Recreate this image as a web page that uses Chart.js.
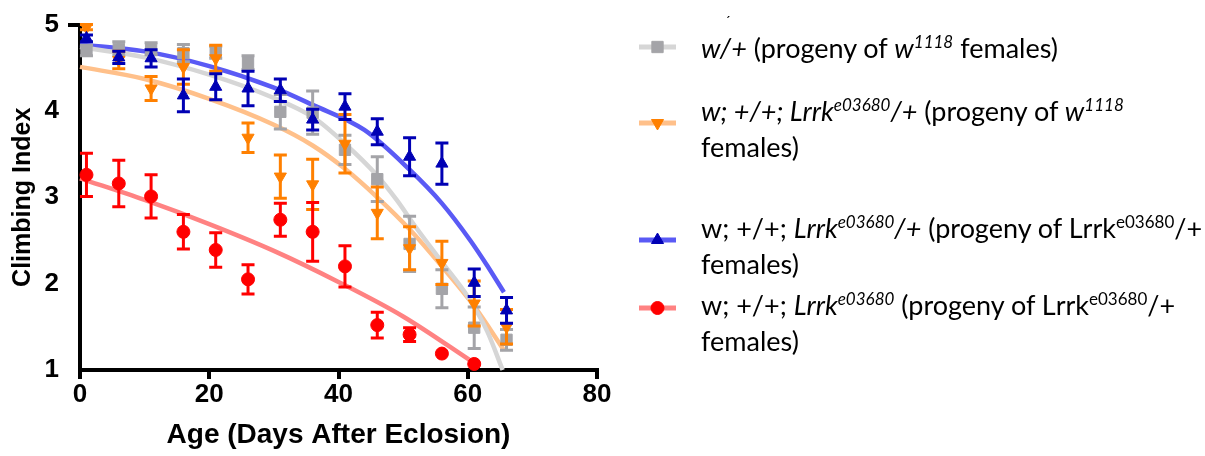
<!DOCTYPE html>
<html><head><meta charset="utf-8">
<script src="https://cdn.jsdelivr.net/npm/chart.js@4.4.1/dist/chart.umd.min.js"></script>
<style>
html,body{margin:0;padding:0;background:#fff;width:1205px;height:456px;overflow:hidden}
#wrap{position:relative;width:1205px;height:456px}
canvas{position:absolute;left:0;top:0}
.leg{position:absolute;left:701px;font-family:Lato,'Open Sans',sans-serif;font-size:27px;color:#000;line-height:36px;white-space:nowrap}
.leg sup{font-size:17px;line-height:0;vertical-align:0;position:relative;top:-10px}
.tick{position:absolute;left:725px;top:12px;font-family:Lato,sans-serif;font-size:14px}
</style></head><body>
<div id="wrap"><canvas id="c" width="1205" height="456"></canvas>
<div class="tick">ˊ</div>
<div class="leg" style="top:30px"><i>w/+</i> (progeny of <i>w<sup>1118</sup></i> females)</div>
<div class="leg" style="top:93px"><i>w; +/+; Lrrk<sup>e03680</sup>/+</i> (progeny of <i>w<sup>1118</sup></i><br>females)</div>
<div class="leg" style="top:210px">w; +/+; <i>Lrrk<sup>e03680</sup>/+</i> (progeny of Lrrk<sup>e03680</sup>/+<br>females)</div>
<div class="leg" style="top:287px">w; +/+; <i>Lrrk<sup>e03680</sup></i> (progeny of Lrrk<sup>e03680</sup>/+<br>females)</div>
</div>
<script>
// ---- data ----
const days = [1,6,11,16,21,26,31,36,41,46,51,56,61,66];
const redDays = [1,6,11,16,21,26,31,36,41,46,51,56,61];

const greyVals = [4.70,4.72,4.72,4.67,4.68,4.56,3.99,3.98,3.55,3.21,2.46,1.94,1.49,1.35];
const greyErr  = [0.06,0.08,0.07,0.10,0.07,0.08,0.20,0.25,0.17,0.26,0.32,0.22,0.24,0.12];

const orangeVals = [4.97,4.59,4.26,4.51,4.61,3.69,3.24,3.15,3.62,2.82,2.41,2.24,1.77,1.50];
const orangeErr  = [0.03,0.10,0.14,0.20,0.15,0.17,0.25,0.29,0.34,0.30,0.25,0.25,0.26,0.20];

const blueVals = [4.84,4.62,4.61,4.18,4.28,4.26,4.24,3.90,4.05,3.76,3.47,3.39,2.01,1.69];
const blueErr  = [0.04,0.07,0.10,0.19,0.15,0.20,0.13,0.12,0.15,0.15,0.22,0.24,0.16,0.15];

const redVals = [3.26,3.16,3.01,2.60,2.39,2.05,2.74,2.60,2.20,1.52,1.41,1.19,1.07];
const redErr  = [0.25,0.27,0.25,0.20,0.20,0.17,0.19,0.34,0.24,0.15,0.08,0,0];

// fitted curves
const greyFitX = [0,10,20,30,36,41,46,49,52,56,60,63,65.4];
const greyFitY = [4.74,4.62,4.42,4.15,3.93,3.62,3.25,2.97,2.65,2.25,1.85,1.45,1.0];
const orangeFitX = [0,10,20,30,36,41,46,51,56,61,65.6];
const orangeFitY = [4.51,4.37,4.14,3.84,3.60,3.33,3.00,2.63,2.20,1.74,1.23];
const blueFitX = [0,10,20,30,36,44,51,56,60.4,63,65.6];
const blueFitY = [4.77,4.69,4.52,4.27,4.07,3.78,3.32,2.93,2.50,2.21,1.90];
const redFitX = [0,10,20,30,40,50,61];
const redFitY = [3.22,2.97,2.69,2.38,2.02,1.62,1.08];

const xTicks = [0,20,40,60,80];
const yTicks = [1,2,3,4,5];

const pts = (xs, ys) => xs.map((x,i)=>({x, y: ys[i]}));

const C = {
  grey:'#a4a4a8', greyLine:'#d6d6d6',
  orange:'#ff8000', orangeLine:'#ffc08a',
  blue:'#0000b4', blueLine:'#5a5af5',
  red:'#ff0000', redLine:'#ff8282'
};
const FONT = '"Liberation Sans", Arial, sans-serif';

const errorBars = {
  id:'errorBars',
  beforeDatasetDraw(chart, args){
    const ds = chart.data.datasets[args.index];
    if(!ds.errors) return;
    const ctx = chart.ctx, ys = chart.scales.y;
    ctx.save();
    ctx.strokeStyle = ds.errColor; ctx.lineWidth = 3; ctx.lineCap='butt';
    args.meta.data.forEach((p,i)=>{
      const e = ds.errors[i]; if(!e) return;
      const v = ds.data[i].y;
      const t = ys.getPixelForValue(v+e), b = ys.getPixelForValue(v-e), x = p.x;
      ctx.beginPath();
      ctx.moveTo(x,t); ctx.lineTo(x,b);
      ctx.moveTo(x-6.5,t); ctx.lineTo(x+6.5,t);
      ctx.moveTo(x-6.5,b); ctx.lineTo(x+6.5,b);
      ctx.stroke();
    });
    ctx.restore();
  }
};

const legendSymbols = {
  id:'legendSymbols',
  afterDraw(chart){
    const ctx = chart.ctx;
    const items = [
      {y:47, line:C.greyLine, col:C.grey, style:'rect', rot:0, r:8},
      {y:123, line:C.orangeLine, col:C.orange, style:'triangle', rot:180, r:7},
      {y:240, line:C.blueLine, col:C.blue, style:'triangle', rot:0, r:7},
      {y:308, line:C.redLine, col:C.red, style:'circle', rot:0, r:6.5}
    ];
    items.forEach(it=>{
      ctx.save();
      ctx.strokeStyle = it.line; ctx.lineWidth = 5;
      ctx.beginPath(); ctx.moveTo(639,it.y); ctx.lineTo(676,it.y); ctx.stroke();
      ctx.fillStyle = it.col; ctx.strokeStyle = it.col; ctx.lineWidth = 1;
      Chart.helpers.drawPoint(ctx, {pointStyle: it.style, radius: it.r, rotation: it.rot, borderWidth:1}, 657.5, it.y);
      ctx.restore();
    });
  }
};

const fitDs = (xs, ys, col) => ({
  type:'line', data: pts(xs, ys), borderColor: col, borderWidth: 4.5,
  pointRadius: 0, cubicInterpolationMode:'monotone', fill:false, order: 10, clip: false
});
const ptDs = (xs, ys, errs, col, style, rot, r, ord) => ({
  type:'scatter', data: pts(xs, ys), errors: errs, errColor: col,
  backgroundColor: col, borderColor: col, pointStyle: style, pointRotation: rot,
  pointRadius: r, borderWidth: 1, order: ord, showLine:false, clip:false
});

new Chart(document.getElementById('c'), {
  data: {
    datasets: [
      fitDs(greyFitX, greyFitY, C.greyLine),
      fitDs(orangeFitX, orangeFitY, C.orangeLine),
      fitDs(blueFitX, blueFitY, C.blueLine),
      fitDs(redFitX, redFitY, C.redLine),
      ptDs(days, greyVals, greyErr, C.grey, 'rect', 0, 8, 4),
      ptDs(days, orangeVals, orangeErr, C.orange, 'triangle', 180, 7, 3),
      ptDs(days, blueVals, blueErr, C.blue, 'triangle', 0, 7, 2),
      ptDs(redDays, redVals, redErr, C.red, 'circle', 0, 6.5, 1)
    ]
  },
  options: {
    responsive:false, animation:false,
    layout:{padding:{left:0, right:608, top:22, bottom:0}},
    plugins:{legend:{display:false}, tooltip:{enabled:false}},
    scales:{
      x:{
        type:'linear', min:0, max:80,
        afterBuildTicks(s){ s.ticks = xTicks.map(v=>({value:v})); },
        afterFit(s){ s.height = 86; },
        border:{color:'#000', width:4},
        grid:{drawOnChartArea:false, drawTicks:true, tickLength:9, color:'#000', lineWidth:4},
        ticks:{color:'#000', font:{family:FONT, size:26, weight:'bold'}, padding:0, maxRotation:0},
        title:{display:true, text:'Age (Days After Eclosion)', color:'#000',
               font:{family:FONT, size:28, weight:'bold'}, padding:{top:2}}
      },
      y:{
        type:'linear', min:1, max:5,
        afterBuildTicks(s){ s.ticks = yTicks.map(v=>({value:v})); },
        afterFit(s){ s.width = 80; },
        border:{color:'#000', width:4},
        grid:{drawOnChartArea:false, drawTicks:true, tickLength:12, lineWidth:4,
              color:(c)=> (c.tick && c.tick.value===5) ? '#000' : 'rgba(0,0,0,0)'},
        ticks:{color:'#000', font:{family:FONT, size:26, weight:'bold'}, padding:9},
        title:{display:true, text:'Climbing Index', color:'#000',
               font:{family:FONT, size:25, weight:'bold'}, padding:{top:8,bottom:4}}
      }
    }
  },
  plugins:[errorBars, legendSymbols]
});
</script>
</body></html>
